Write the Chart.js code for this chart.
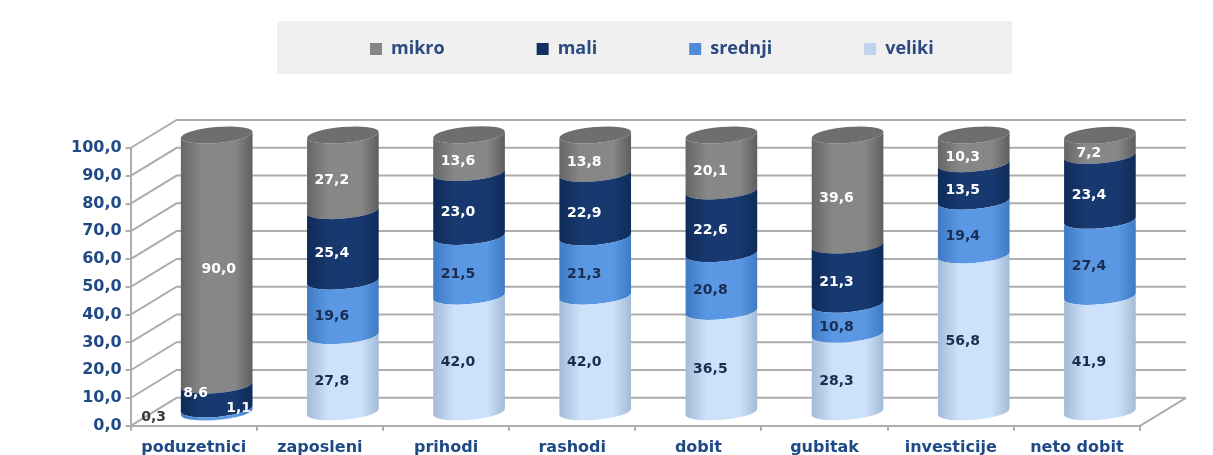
<!DOCTYPE html>
<html lang="hr">
<head>
    <meta charset="UTF-8">
    <title>Poduzetnici po velicini</title>
    <style>
        html, body { margin: 0; padding: 0; background: #fff; }
        canvas { display: block; }
    </style>
</head>
<body>
    <canvas id="chart" width="1213" height="455"></canvas>

    <script src="https://cdn.jsdelivr.net/npm/chart.js"></script>
    <script>
        const kategorije = ['poduzetnici', 'zaposleni', 'prihodi', 'rashodi', 'dobit', 'gubitak', 'investicije', 'neto dobit'];
        const veliki = [0.3, 27.8, 42.0, 42.0, 36.5, 28.3, 56.8, 41.9];
        const srednji = [1.1, 19.6, 21.5, 21.3, 20.8, 10.8, 19.4, 27.4];
        const mali = [8.6, 25.4, 23.0, 22.9, 22.6, 21.3, 13.5, 23.4];
        const mikro = [90.0, 27.2, 13.6, 13.8, 20.1, 39.6, 10.3, 7.2];

        const axisColor = '#adadad';
        const blue = '#1f4a86';
        const comma = v => v.toFixed(1).replace('.', ',');

        // 3D look: depth of the walls, and where the cylinders stand inside it
        const wallX = 46, wallY = -28, barX = 23, barY = -13;
        const capRy = 8, tilt = -5 * Math.PI / 180;

        // edge, middle, edge of each cylinder, same order as the datasets
        const shades = [
            ['#a3bad6', '#cde1fa', '#a3bad6'],
            ['#3f7ac4', '#5a98e3', '#3f7ac4'],
            ['#0f2b58', '#17396f', '#0f2b58'],
            ['#666666', '#878787', '#5e5e5e']
        ];
        const labelColors = ['#1a2c50', '#1a2c50', '#ffffff', '#ffffff'];

        // the small first column has its labels moved by hand, like in the original
        const nudges = { '0-0': [-52, -3], '1-0': [33, -10], '2-0': [-10, -12], '3-0': [13, 1] };

        function sideFill(ctx, bar, set) {
            const half = bar.width / 2;
            const g = ctx.createLinearGradient(bar.x - half, 0, bar.x + half, 0);
            g.addColorStop(0, set[0]);
            g.addColorStop(0.3, set[1]);
            g.addColorStop(0.75, set[1]);
            g.addColorStop(1, set[2]);
            return g;
        }

        const cylinders = {
            id: 'cylinders',
            beforeDraw(chart) {
                // grey band behind the legend
                chart.ctx.save();
                chart.ctx.fillStyle = '#f0f0f0';
                chart.ctx.fillRect(277, 21, 735, 53);
                chart.ctx.restore();
            },
            afterLayout(chart) {
                // legend padding is the gap between items, so it has to start higher up
                chart.legend.left = 278;
                chart.legend.top = -52;
            },
            beforeDatasetsDraw(chart) {
                const { ctx, chartArea: a, scales: { y } } = chart;
                ctx.save();
                ctx.strokeStyle = axisColor;
                ctx.lineWidth = 2;
                ctx.beginPath();
                y.ticks.forEach(t => {
                    const py = y.getPixelForValue(t.value);
                    ctx.moveTo(a.left, py);
                    ctx.lineTo(a.left + wallX, py + wallY);
                    ctx.lineTo(a.right + wallX, py + wallY);
                });
                ctx.moveTo(a.right, a.bottom);
                ctx.lineTo(a.right + wallX, a.bottom + wallY);
                ctx.stroke();
                ctx.restore();
            },
            beforeDatasetDraw(chart, args) {
                const ctx = chart.ctx;
                const set = shades[args.index];
                const isTop = args.index === chart.data.datasets.length - 1;
                ctx.save();
                ctx.translate(barX, barY);
                args.meta.data.forEach(bar => {
                    const rx = bar.width / 2;
                    const dx = rx * Math.cos(tilt), dy = rx * Math.sin(tilt);
                    ctx.fillStyle = sideFill(ctx, bar, set);
                    ctx.beginPath();
                    ctx.ellipse(bar.x, bar.base, rx, capRy, tilt, Math.PI, 0, true);
                    ctx.lineTo(bar.x + dx, bar.y + dy);
                    ctx.ellipse(bar.x, bar.y, rx, capRy, tilt, 0, Math.PI, false);
                    ctx.closePath();
                    ctx.fill();
                    if (isTop) {
                        ctx.fillStyle = '#6e6e6e';
                        ctx.beginPath();
                        ctx.ellipse(bar.x, bar.y, rx, capRy, tilt, 0, Math.PI * 2);
                        ctx.fill();
                    }
                });
                ctx.restore();
                return false;
            },
            afterDatasetsDraw(chart) {
                const ctx = chart.ctx;
                ctx.save();
                ctx.font = 'bold 14px "DejaVu Sans"';
                ctx.textAlign = 'center';
                ctx.textBaseline = 'middle';
                chart.data.datasets.forEach((ds, i) => {
                    chart.getDatasetMeta(i).data.forEach((bar, j) => {
                        const nudge = nudges[i + '-' + j] || [0, 0];
                        ctx.fillStyle = labelColors[i];
                        if (i === 0 && j === 0) ctx.fillStyle = '#3a3a3a';
                        if (i === 1 && j === 0) ctx.fillStyle = '#ffffff';
                        ctx.fillText(comma(ds.data[j]), bar.x + 12 + nudge[0], (bar.y + bar.base) / 2 - 5 + nudge[1]);
                    });
                });
                ctx.restore();
            }
        };

        new Chart(document.getElementById('chart'), {
            type: 'bar',
            data: {
                labels: kategorije,
                datasets: [
                    { label: 'veliki', data: veliki, backgroundColor: '#bed3ee' },
                    { label: 'srednji', data: srednji, backgroundColor: '#4f8bd6' },
                    { label: 'mali', data: mali, backgroundColor: '#11305f' },
                    { label: 'mikro', data: mikro, backgroundColor: '#868686' }
                ]
            },
            options: {
                responsive: false,
                animation: false,
                categoryPercentage: 1,
                barPercentage: 0.57,
                layout: { padding: { left: 67, right: 73, top: 147, bottom: -9 } },
                scales: {
                    x: {
                        stacked: true,
                        grid: { drawOnChartArea: false, color: axisColor, lineWidth: 2, tickLength: 5 },
                        border: { color: axisColor, width: 2 },
                        ticks: { color: blue, maxRotation: 0, autoSkip: false, padding: 7, font: { family: '"DejaVu Sans"', weight: 'bold', size: 16 } }
                    },
                    y: {
                        stacked: true,
                        min: 0,
                        max: 100,
                        grid: { drawOnChartArea: false, color: axisColor, lineWidth: 2, tickLength: 5 },
                        border: { color: axisColor, width: 2 },
                        ticks: { stepSize: 10, color: blue, padding: 4, callback: v => comma(v), font: { family: '"DejaVu Sans"', weight: 'bold', size: 16 } }
                    }
                },
                plugins: {
                    tooltip: { enabled: false },
                    legend: {
                        position: 'top',
                        align: 'start',
                        maxHeight: 1,
                        reverse: true,
                        labels: { boxWidth: 12, boxHeight: 12, padding: 92, color: '#2a4a80', font: { family: '"Open Sans"', weight: 'bold', size: 18 } }
                    }
                }
            },
            plugins: [cylinders]
        });
    </script>
</body>
</html>
